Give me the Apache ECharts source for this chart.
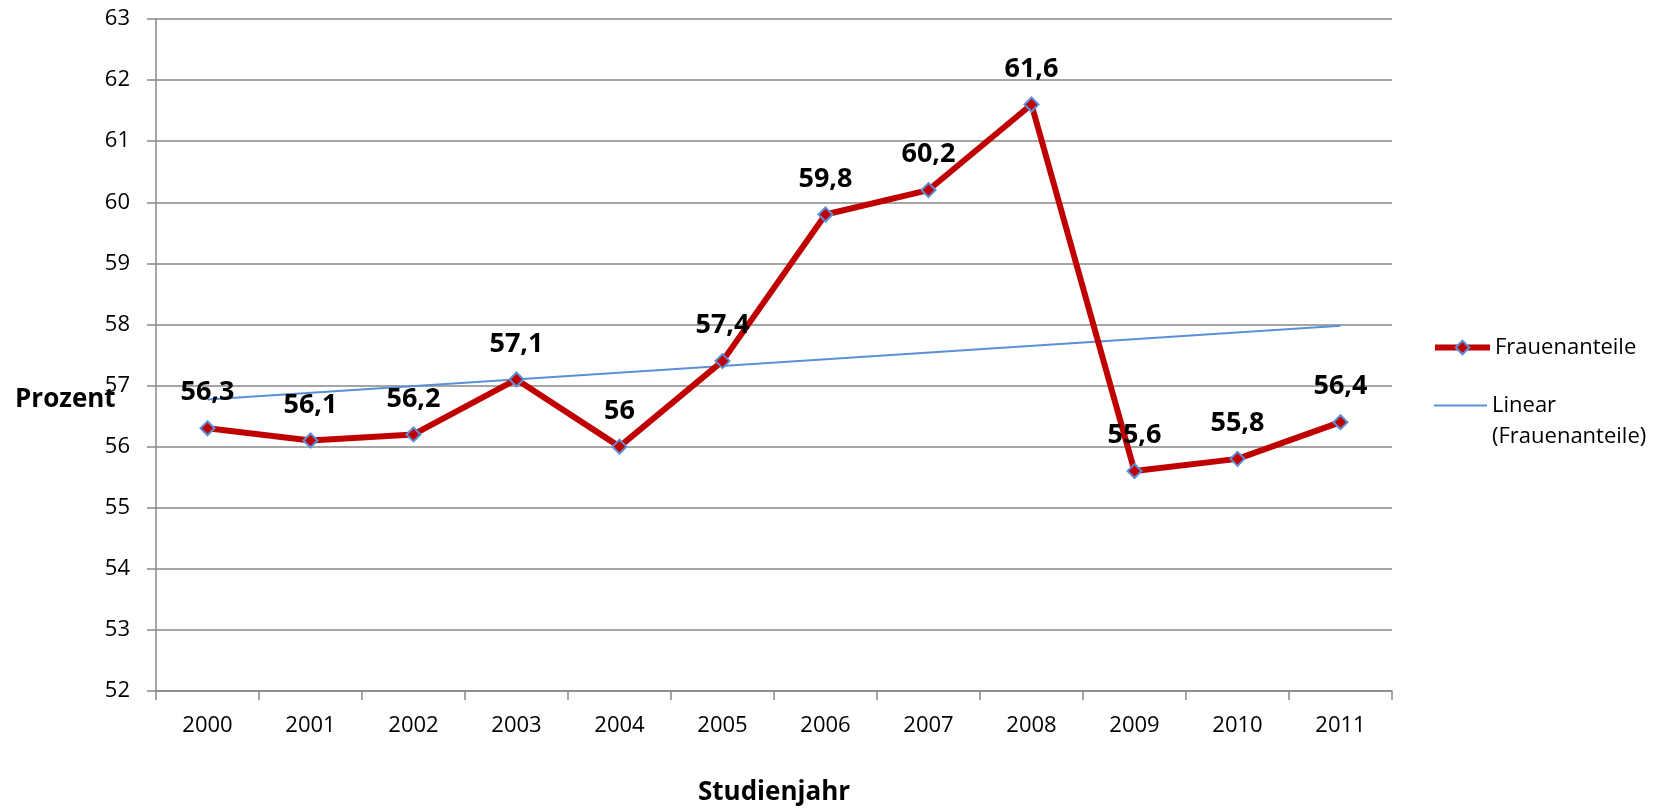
<!DOCTYPE html>
<html>
<head>
<meta charset="utf-8">
<script src="https://cdn.jsdelivr.net/npm/echarts@6/dist/echarts.min.js"></script>
<style>
  html, body { margin: 0; padding: 0; background: #fff; }
  #chart { width: 1671px; height: 811px; }
</style>
</head>
<body>
<div id="chart"></div>
<script>
// Studienjahre und Frauenanteile (Prozent)
var years = ['2000', '2001', '2002', '2003', '2004', '2005', '2006', '2007', '2008', '2009', '2010', '2011'];
var frauenanteile = [56.3, 56.1, 56.2, 57.1, 56.0, 57.4, 59.8, 60.2, 61.6, 55.6, 55.8, 56.4];
// Trendlinie, Endpunkte
var trendYears = [0, 11];
var trendValues = [56.77, 57.98];

var font = '"Open Sans", "Noto Sans", sans-serif';
var gridColor = '#888888';
var red = '#C00000';
var blue = '#5B8FD6';

var chart = echarts.init(document.getElementById('chart'));

chart.setOption({
  animation: false,
  textStyle: { fontFamily: font },
  grid: { left: 156, right: 279, top: 19, bottom: 120 },
  legend: [
    {
      data: ['Frauenanteile'],
      left: 1432, top: 332, padding: 0,
      itemWidth: 55, itemHeight: 17,
      lineStyle: { width: 6, color: red },
      textStyle: { fontSize: 22, color: '#000', fontFamily: font, lineHeight: 31 }
    },
    {
      data: [{ name: 'Linear (Frauenanteile)', icon: 'rect' }],
      left: 1434, top: 359, padding: 0,
      itemWidth: 53, itemHeight: 2,
      // leere erste Zeile, damit das Symbol auf Höhe von "Linear" steht
      formatter: function (n) { return '\n' + n.replace(' ', '\n'); },
      textStyle: { fontSize: 22, color: '#000', fontFamily: font, lineHeight: 31 }
    }
  ],
  graphic: [{
    type: 'text', left: 15, top: 387,
    style: { text: 'Prozent', font: 'bold 26px ' + font, fill: '#000' }
  }],
  xAxis: {
    type: 'category',
    data: years,
    boundaryGap: true,
    name: 'Studienjahr',
    nameLocation: 'middle',
    nameGap: 89,
    nameTextStyle: { fontSize: 26, fontWeight: 'bold', color: '#000', fontFamily: font },
    axisLine: { lineStyle: { color: gridColor, width: 1.5 } },
    axisTick: { show: true, length: 9, inside: false, lineStyle: { color: gridColor, width: 1.5 } },
    axisLabel: { fontSize: 22, color: '#000', margin: 24, fontFamily: font }
  },
  yAxis: {
    type: 'value',
    min: 52, max: 63, interval: 1,
    axisLine: { show: true, lineStyle: { color: gridColor, width: 1.5 } },
    axisTick: { show: true, length: 9, lineStyle: { color: gridColor, width: 1.5 } },
    axisLabel: { fontSize: 22, color: '#000', margin: 26, fontFamily: font },
    splitLine: { lineStyle: { color: gridColor, width: 1.5 } }
  },
  series: [
    {
      name: 'Frauenanteile',
      type: 'line',
      data: frauenanteile,
      z: 3,
      symbol: 'diamond',
      symbolSize: 14,
      lineStyle: { color: red, width: 6 },
      itemStyle: { color: red, borderColor: blue, borderWidth: 2 },
      label: {
        show: true,
        position: 'top',
        distance: 14,
        fontSize: 27,
        fontWeight: 'bold',
        color: '#000',
        fontFamily: font,
        formatter: function (p) { return String(p.value).replace('.', ','); }
      }
    },
    {
      name: 'Linear (Frauenanteile)',
      type: 'line',
      data: trendYears.map(function (x, i) { return [x, trendValues[i]]; }),
      z: 2,
      symbol: 'none',
      silent: true,
      lineStyle: { color: blue, width: 2 },
      itemStyle: { color: blue }
    }
  ]
});
</script>
</body>
</html>
